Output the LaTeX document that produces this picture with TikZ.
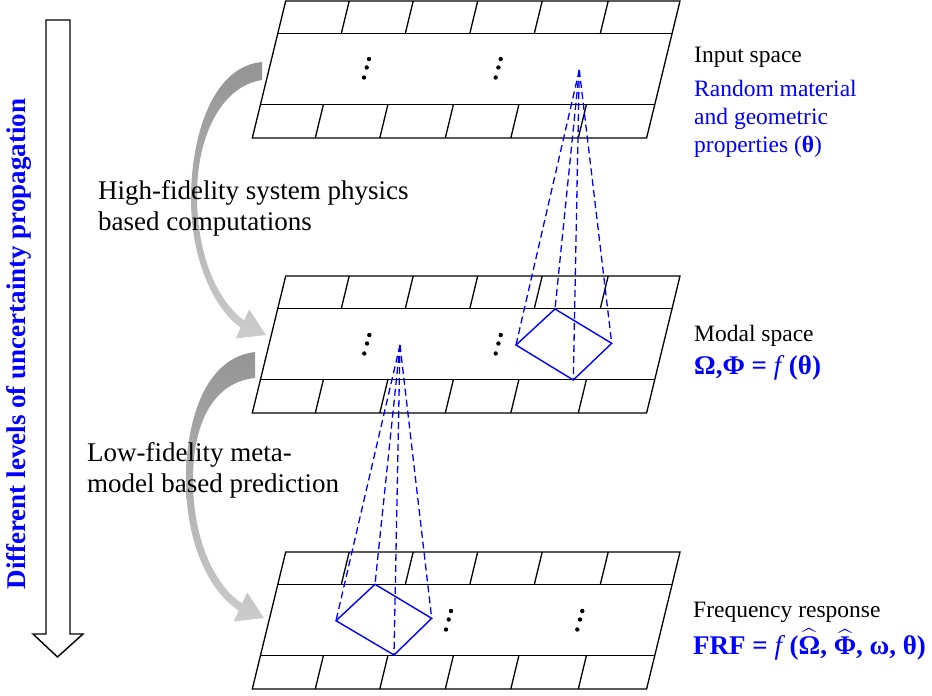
\documentclass[tikz,border=0pt]{standalone}
\usepackage{amsmath}
\usepackage{fontspec}
\setmainfont{Liberation Serif}
\usepackage{tikz}
\usetikzlibrary{calc}

\newcommand{\spacelayer}[1]{%
  \begin{scope}[shift={(0,#1)}]
    \draw[plate] (285.7,0) -- (680,0) -- (646.6,137) -- (252.3,137) -- cycle;
    \draw[plate] (277.8,32.5) -- (672.1,32.5);
    \draw[plate] (260.4,103.5) -- (654.7,103.5);
    \foreach \dx in {63.5,127.5,192,256.5,322.5}
      \draw[plate] (285.7+\dx,0) -- (277.8+\dx,32.5);
    \foreach \dx in {63,127.5,193,258.5,326}
      \draw[plate] (260.4+\dx,103.5) -- (252.3+\dx,137);
  \end{scope}}
\newcommand{\dotcol}[2]{\fill (#1,#2) circle (2.2pt) (#1-2.3,#2+8.5) circle (2.2pt) (#1-5,#2+18.5) circle (2.2pt);}

\begin{document}
\begin{tikzpicture}[x=1pt, y=-1pt,
  plate/.style={line width=1.3pt},
  proj/.style={blue, dash pattern=on 7pt off 4pt, line width=1.3pt},
  cell/.style={blue, line width=1.4pt},
  flowarrow/.style={top color=black!42, bottom color=black!20, draw=none},
  lbl/.style={anchor=base west, align=left, inner sep=0pt, font=\fontsize{27}{31}\selectfont},
  side/.style={anchor=base west, align=left, inner sep=0pt, font=\fontsize{23.5}{28}\selectfont},
  formula/.style={anchor=base west, inner sep=0pt, text=blue, font=\fontsize{27}{32}\selectfont}
]
\useasboundingbox (0,0) rectangle (932,696);

\spacelayer{1}
\spacelayer{276}
\spacelayer{552}

\dotcol{369}{59}
\dotcol{500.7}{59}
\dotcol{369.3}{335}
\dotcol{500.7}{335}
\dotcol{451}{611}
\dotcol{582.3}{611}

\coordinate (apex1) at (579.3,70);
\coordinate (apex2) at (400,345);
\coordinate (m-t) at (555,309);
\coordinate (m-l) at (516,345);
\coordinate (m-r) at (611.7,343.3);
\coordinate (m-b) at (573.3,380);
\coordinate (b-t) at (375,584.3);
\coordinate (b-l) at (336,620.7);
\coordinate (b-r) at (431.7,618.3);
\coordinate (b-b) at (394,655);

\draw[cell] (m-t) -- (m-r) -- (m-b) -- (m-l) -- cycle;
\draw[cell] (b-t) -- (b-r) -- (b-b) -- (b-l) -- cycle;
\foreach \v in {t,l,r,b} {
  \draw[proj] (apex1) -- (m-\v);
  \draw[proj] (apex2) -- (b-\v);
}

\shade[flowarrow] (262,62) .. controls (215,66) and (192,130) .. (191,195)
  .. controls (190,260) and (215,310) .. (240.7,327.6) -- (235.6,338.5) -- (266,335)
  -- (249.2,309.5) -- (244.1,320.4) .. controls (220,303) and (197,260) .. (197,195)
  .. controls (197,135) and (222,86) .. (262,80) -- cycle;
\shade[flowarrow] (255,352) .. controls (205,358) and (186,420) .. (186,480)
  .. controls (186,545) and (210,592) .. (238.7,610.6) -- (233.6,621.5) -- (264,618)
  -- (247.2,592.5) -- (242.1,603.4) .. controls (218,588) and (193,545) .. (193,480)
  .. controls (193,420) and (215,382) .. (255,378) -- cycle;

\draw[line width=1.4pt] (46,20) -- (70,20) -- (70,634) -- (83,634) -- (57.5,657)
  -- (33,634) -- (46,634) -- cycle;
\node[rotate=90, text=blue, font=\bfseries\fontsize{27}{30}\selectfont] (levels) at (19,344) {Different levels of uncertainty propagation};

\node[lbl] (hifi) at (98,230) {High-fidelity system physics\\based computations};
\node[lbl] (lofi) at (87,492) {Low-fidelity meta-\\model based prediction};

\node[side] (inlbl) at (694,62) {Input space};
\node[side, text=blue] (inprop) at (694,152) {Random material\\and geometric\\properties (\textbf{θ})};
\node[side] (modlbl) at (694,341) {Modal space};
\node[formula] (modeq) at (694,374) {\textbf{Ω,Φ =} \textit{f}\,\textbf{(θ)}};
\node[side] (frlbl) at (693,617) {Frequency response};
\node[formula] (freq) at (693,654) {\textbf{FRF =} \textit{f}\,\textbf{(}$\widehat{\text{\textbf{Ω}}}$\textbf{, }$\widehat{\text{\textbf{Φ}}}$\textbf{, ω, θ)}};
\end{tikzpicture}
\end{document}
